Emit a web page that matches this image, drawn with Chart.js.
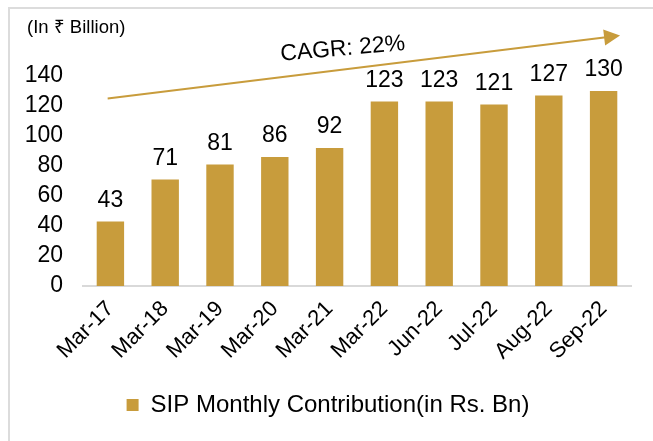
<!DOCTYPE html>
<html>
<head>
<meta charset="utf-8">
<script src="https://cdn.jsdelivr.net/npm/chart.js@4"></script>
<style>
  body { margin: 0; background: #fff; }
  #wrap { position: relative; width: 653px; height: 441px; }
  #frame {
    position: absolute; left: 8px; top: 7px; right: -10px; bottom: -10px;
    border-top: 2px solid #dcdcdc; border-left: 2px solid #dcdcdc;
  }
  #js-bar-chart { position: absolute; left: 0; top: 0; }
</style>
</head>
<body>
<div id="wrap">
  <div id="frame"></div>
  <canvas id="js-bar-chart" width="653" height="441"></canvas>
</div>
<script>
// Chart data
const categories = ['Mar-17', 'Mar-18', 'Mar-19', 'Mar-20', 'Mar-21', 'Mar-22', 'Jun-22', 'Jul-22', 'Aug-22', 'Sep-22'];
const sipValues = [43, 71, 81, 86, 92, 123, 123, 121, 127, 130];
const yTicks = [0, 20, 40, 60, 80, 100, 120, 140];
const seriesName = 'SIP Monthly Contribution(in Rs. Bn)';
const unitNote = '(In \u20B9 Billion)';
const cagrText = 'CAGR: 22%';

const gold = '#C89C3C';
const font = "'Liberation Sans', Arial, sans-serif";

// labels above bars, growth arrow and unit note
const overlay = {
  id: 'overlay',
  afterDraw(chart) {
    const ctx = chart.ctx;
    const x = chart.scales.x;
    const y = chart.scales.y;
    ctx.save();
    ctx.fillStyle = '#000';
    ctx.font = '23px ' + font;
    ctx.textAlign = 'center';
    ctx.textBaseline = 'alphabetic';
    chart.getDatasetMeta(0).data.forEach((bar, i) => {
      ctx.fillText(String(sipValues[i]), bar.x, bar.y - 15);
    });

    // arrow (in data units: category index, value)
    const x1 = x.getPixelForValue(-0.05), y1 = y.getPixelForValue(125);
    const x2 = x.getPixelForValue(9.3), y2 = y.getPixelForValue(167);
    const ang = Math.atan2(y2 - y1, x2 - x1);
    ctx.strokeStyle = gold;
    ctx.fillStyle = gold;
    ctx.lineWidth = 2;
    ctx.beginPath();
    ctx.moveTo(x1, y1);
    ctx.lineTo(x2 - 12 * Math.cos(ang), y2 - 12 * Math.sin(ang));
    ctx.stroke();
    ctx.beginPath();
    ctx.moveTo(x2, y2);
    ctx.lineTo(x2 - 16 * Math.cos(ang) + 8 * Math.sin(ang), y2 - 16 * Math.sin(ang) - 8 * Math.cos(ang));
    ctx.lineTo(x2 - 16 * Math.cos(ang) - 8 * Math.sin(ang), y2 - 16 * Math.sin(ang) + 8 * Math.cos(ang));
    ctx.closePath();
    ctx.fill();

    // CAGR label
    ctx.fillStyle = '#000';
    ctx.translate(x.getPixelForValue(4.24), y.getPixelForValue(158));
    ctx.rotate(-5 * Math.PI / 180);
    ctx.textBaseline = 'middle';
    ctx.fillText(cagrText, 0, 0);
    ctx.restore();

    ctx.save();
    ctx.fillStyle = '#000';
    ctx.font = '18.5px ' + font;
    ctx.textAlign = 'left';
    ctx.textBaseline = 'middle';
    ctx.fillText(unitNote, 27, 28);
    ctx.restore();
  }
};

const ctx = document.getElementById('js-bar-chart').getContext('2d');

const newBarChart = new Chart(ctx, {
  type: 'bar',
  data: {
    labels: categories,
    datasets: [
      {
        label: seriesName,
        data: sipValues,
        backgroundColor: gold,
        borderWidth: 0,
        barPercentage: 0.5,
        categoryPercentage: 1,
      },
    ],
  },
  options: {
    responsive: false,
    animation: false,
    layout: { padding: { left: 25, right: 22, top: 76, bottom: 14 } },
    plugins: {
      tooltip: { enabled: false },
      legend: {
        position: 'bottom',
        labels: {
          boxWidth: 12,
          boxHeight: 12,
          padding: 10,
          color: '#000',
          font: { family: font, size: 24 },
        },
      },
    },
    scales: {
      x: {
        grid: { display: false, drawTicks: false },
        border: { display: true, color: '#d9d9d9', width: 2 },
        ticks: {
          minRotation: 45,
          maxRotation: 45,
          padding: 10,
          color: '#000',
          font: { family: font, size: 22 },
        },
        afterFit(axis) {
          axis.height = 97;
          axis.paddingLeft = 0;
          axis.paddingRight = 0;
        },
      },
      y: {
        min: 0,
        max: 140,
        grid: { display: false, drawTicks: false },
        border: { display: false },
        afterBuildTicks(axis) { axis.ticks = yTicks.map(v => ({ value: v })); },
        afterFit(axis) { axis.width = 58; },
        ticks: {
          autoSkip: false,
          padding: 20,
          color: '#000',
          font: { family: font, size: 23 },
        },
      },
    },
  },
  plugins: [overlay],
});
</script>
</body>
</html>
